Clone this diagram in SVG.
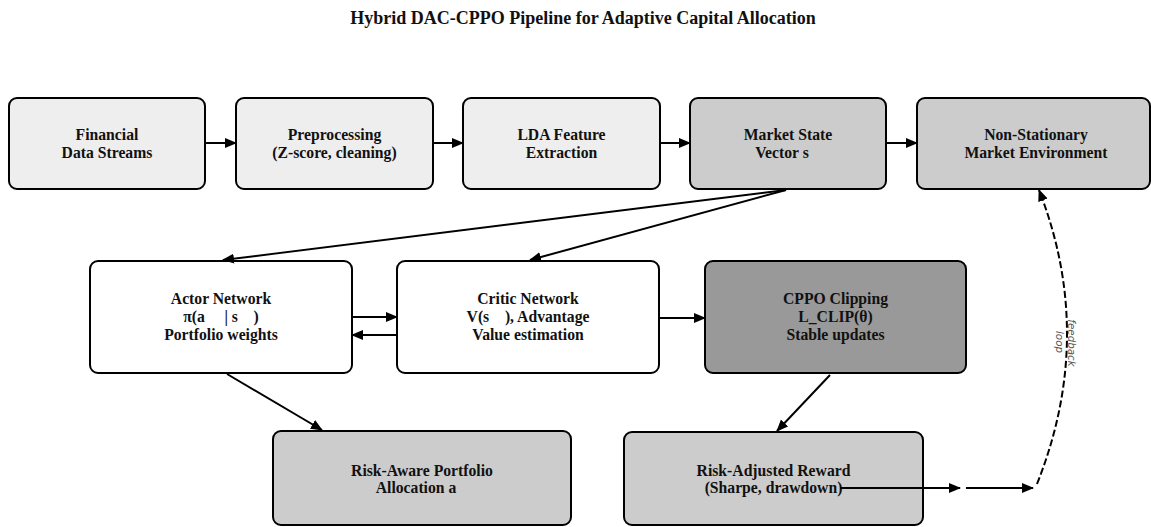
<svg xmlns="http://www.w3.org/2000/svg" width="1151" height="527" viewBox="0 0 1151 527">
<style>
.box{stroke:#000;stroke-width:2;}
.l1{fill:#eeeeee;}
.l2{fill:#cccccc;}
.w{fill:#ffffff;}
.d{fill:#999999;}
.t{font-family:"Liberation Serif","Times New Roman",serif;font-weight:bold;font-size:15.7px;fill:#111;text-anchor:middle;}
.title{font-family:"Liberation Serif","Times New Roman",serif;font-weight:bold;font-size:18px;fill:#111;text-anchor:middle;}
.c{stroke:#000;stroke-width:2;fill:none;marker-end:url(#ah);}
.fb{font-family:"DejaVu Sans",sans-serif;font-style:italic;font-size:10.3px;fill:#555;text-anchor:middle;}
</style>
<defs>
<marker id="ah" markerUnits="userSpaceOnUse" markerWidth="14" markerHeight="12" refX="11" refY="5" orient="auto">
<path d="M0,0 L12,5 L0,10 z" fill="#000"/>
</marker>
</defs>
<rect width="1151" height="527" fill="#fff"/>
<text class="title" x="583" y="24">Hybrid DAC-CPPO Pipeline for Adaptive Capital Allocation</text>

<g id="financial">
<rect class="box l1" x="9" y="98" width="196" height="91" rx="8"/>
<text class="t" x="107" y="140">Financial</text>
<text class="t" x="107" y="157.5">Data Streams</text>
</g>
<g id="preprocessing">
<rect class="box l1" x="236" y="98" width="197" height="91" rx="8"/>
<text class="t" x="334.5" y="140">Preprocessing</text>
<text class="t" x="334.5" y="157.5">(Z-score, cleaning)</text>
</g>
<g id="lda">
<rect class="box l1" x="463" y="98" width="197" height="91" rx="8"/>
<text class="t" x="561.5" y="140">LDA Feature</text>
<text class="t" x="561.5" y="157.5">Extraction</text>
</g>
<g id="state">
<rect class="box l2" x="690" y="98" width="196" height="91" rx="8"/>
<text class="t" x="788" y="140">Market State</text>
<text class="t" x="782" y="157.5">Vector s</text>
</g>
<g id="environment">
<rect class="box l2" x="917" y="98" width="233" height="91" rx="8"/>
<text class="t" x="1036" y="140">Non-Stationary</text>
<text class="t" x="1036" y="157.5">Market Environment</text>
</g>
<g id="actor">
<rect class="box w" x="90" y="261" width="262" height="112" rx="8"/>
<text class="t" x="221" y="304">Actor Network</text>
<text class="t" x="221" y="322">π(a&#8195; | s&#8195;)</text>
<text class="t" x="221" y="339.5">Portfolio weights</text>
</g>
<g id="critic">
<rect class="box w" x="397" y="261" width="262" height="112" rx="8"/>
<text class="t" x="528" y="304">Critic Network</text>
<text class="t" x="528" y="322">V(s&#8195;), Advantage</text>
<text class="t" x="528" y="339.5">Value estimation</text>
</g>
<g id="cppo">
<rect class="box d" x="705" y="261" width="261" height="112" rx="8"/>
<text class="t" x="835.5" y="304">CPPO Clipping</text>
<text class="t" x="835.5" y="322">L_CLIP(θ)</text>
<text class="t" x="835.5" y="339.5">Stable updates</text>
</g>
<g id="allocation">
<rect class="box l2" x="273" y="431" width="298" height="94" rx="8"/>
<text class="t" x="422" y="475.5">Risk-Aware Portfolio</text>
<text class="t" x="416" y="493">Allocation a</text>
</g>
<g id="reward">
<rect class="box l2" x="624" y="432" width="299" height="93" rx="8"/>
<text class="t" x="773.5" y="475.5">Risk-Adjusted Reward</text>
<text class="t" x="773.5" y="493">(Sharpe, drawdown)</text>
</g>

<g id="connectors">
<line class="c" x1="205" y1="143" x2="236" y2="143"/>
<line class="c" x1="433" y1="143" x2="463" y2="143"/>
<line class="c" x1="660" y1="143" x2="690" y2="143"/>
<line class="c" x1="886" y1="143" x2="917" y2="143"/>
<line class="c" x1="786" y1="190" x2="223" y2="260"/>
<line class="c" x1="786" y1="190" x2="530" y2="260"/>
<line class="c" x1="352" y1="317" x2="397" y2="317"/>
<line class="c" x1="397" y1="335" x2="352" y2="335"/>
<line class="c" x1="659" y1="318" x2="705" y2="318"/>
<line class="c" x1="227" y1="374" x2="322" y2="430"/>
<line class="c" x1="830" y1="375" x2="777" y2="431"/>
<line class="c" x1="840" y1="488" x2="960" y2="488"/>
<line class="c" x1="966" y1="488" x2="1033" y2="488"/>
<path class="c" d="M1037,484 Q1096,336 1039,190" stroke-dasharray="7,3" stroke-width="1.6"/>
<text class="fb" transform="translate(1072,343) rotate(90)" dy="4">feedback</text>
<text class="fb" transform="translate(1060,342) rotate(90)" dy="4">loop</text>
</g>
</svg>
